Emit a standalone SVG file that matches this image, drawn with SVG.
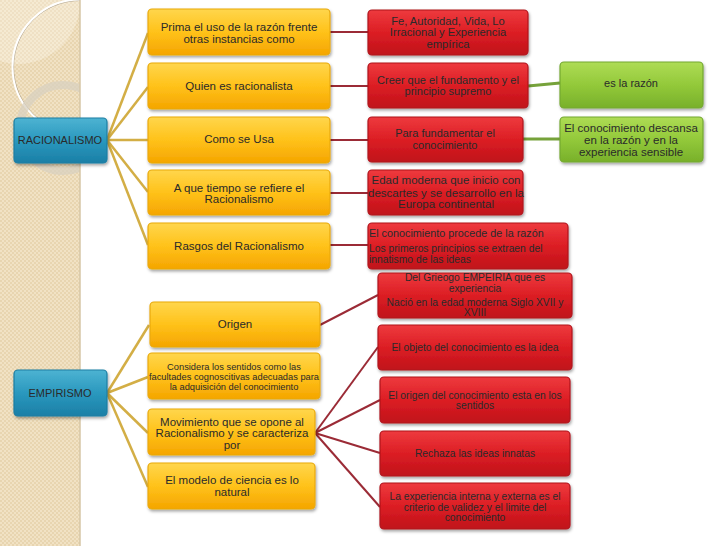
<svg xmlns="http://www.w3.org/2000/svg" width="728" height="546" viewBox="0 0 728 546">
<defs>
<pattern id="chk" width="4" height="4" patternUnits="userSpaceOnUse">
<rect width="4" height="4" fill="#F1E2C4"/>
<rect width="2" height="2" fill="#E8D5B0"/>
<rect x="2" y="2" width="2" height="2" fill="#E8D5B0"/>
</pattern>
<clipPath id="strip"><rect x="0" y="0" width="80" height="546"/></clipPath>
<linearGradient id="gOr" x1="0" y1="0" x2="0" y2="1">
<stop offset="0" stop-color="#FFD64C"/><stop offset="0.5" stop-color="#FFC21A"/><stop offset="1" stop-color="#F5A500"/>
</linearGradient>
<linearGradient id="gRd" x1="0" y1="0" x2="0" y2="1">
<stop offset="0" stop-color="#EE3A3E"/><stop offset="0.5" stop-color="#DC1E24"/><stop offset="1" stop-color="#C0121A"/>
</linearGradient>
<linearGradient id="gGr" x1="0" y1="0" x2="0" y2="1">
<stop offset="0" stop-color="#AEDC55"/><stop offset="0.5" stop-color="#93C93A"/><stop offset="1" stop-color="#78B02A"/>
</linearGradient>
<linearGradient id="gBl" x1="0" y1="0" x2="0" y2="1">
<stop offset="0" stop-color="#4DB3D2"/><stop offset="0.5" stop-color="#2A98BE"/><stop offset="1" stop-color="#1B7FA6"/>
</linearGradient>
<filter id="sh" x="-10%" y="-20%" width="120%" height="150%">
<feDropShadow dx="1" dy="2" stdDeviation="1.5" flood-color="#000" flood-opacity="0.35"/>
</filter>
<style>
.or{fill:url(#gOr);stroke:#E9A90C;stroke-width:1.2;filter:url(#sh)}
.rd{fill:url(#gRd);stroke:#B0141C;stroke-width:1.2;filter:url(#sh)}
.gr{fill:url(#gGr);stroke:#74A830;stroke-width:1.2;filter:url(#sh)}
.bl{fill:url(#gBl);stroke:#1C7EA3;stroke-width:1.2;filter:url(#sh)}
text{font-family:"Liberation Sans",Arial,sans-serif;fill:#2a2a2a;text-anchor:middle}
.t11{font-size:11.5px}
.t10{font-size:10.3px}
.t9{font-size:9.3px}
.l{text-anchor:start}
.cy{stroke:#D3AE45;stroke-width:2.5;fill:none}
.cr{stroke:#9B2B36;stroke-width:2;fill:none}
.cg{stroke:#76A23A;stroke-width:3;fill:none}
</style>
</defs>

<g id="background">
<rect width="728" height="546" fill="#FFFFFF"/>
<rect width="80" height="546" fill="url(#chk)"/>
<g clip-path="url(#strip)">
<circle cx="18" cy="2" r="62" fill="#FFFBF2" opacity="0.3"/>
<circle cx="80" cy="67" r="66.5" fill="none" stroke="#8F8575" stroke-width="1" opacity="0.6"/>
<circle cx="80" cy="67" r="67.5" fill="none" stroke="#FFFFFF" stroke-width="2"/>
<circle cx="63" cy="128" r="43" fill="none" stroke="#D8D0C0" stroke-width="8" opacity="0.75"/>
</g>
<line x1="80" y1="0" x2="80" y2="546" stroke="#D6C6A6" stroke-width="1.5"/>
</g>

<g id="connectors">
<line class="cy" x1="107" y1="140" x2="148" y2="33"/>
<line class="cy" x1="107" y1="140" x2="148" y2="87"/>
<line class="cy" x1="107" y1="140" x2="148" y2="140"/>
<line class="cy" x1="107" y1="140" x2="148" y2="192"/>
<line class="cy" x1="107" y1="140" x2="148" y2="245"/>
<line class="cr" x1="330" y1="32" x2="368" y2="32"/>
<line class="cr" x1="330" y1="86" x2="368" y2="86"/>
<line class="cr" x1="330" y1="140" x2="368" y2="140"/>
<line class="cr" x1="330" y1="193" x2="368" y2="193"/>
<line class="cr" x1="330" y1="245" x2="368" y2="245"/>
<line class="cg" x1="528" y1="86" x2="560" y2="83"/>
<line class="cg" x1="523" y1="139" x2="560" y2="139"/>
<line class="cy" x1="107" y1="393" x2="149" y2="325"/>
<line class="cy" x1="107" y1="393" x2="148" y2="377"/>
<line class="cy" x1="107" y1="393" x2="148" y2="433"/>
<line class="cy" x1="107" y1="393" x2="148" y2="487"/>
<line class="cr" x1="320" y1="325" x2="378" y2="295"/>
<line class="cr" x1="315" y1="433" x2="378" y2="347"/>
<line class="cr" x1="315" y1="433" x2="380" y2="400"/>
<line class="cr" x1="315" y1="433" x2="380" y2="453"/>
<line class="cr" x1="315" y1="433" x2="380" y2="507"/>
</g>

<g id="racionalismo">
<rect class="bl" x="14" y="118" width="93" height="45" rx="4"/>
<text class="t11" x="60" y="144" style="font-size:11px">RACIONALISMO</text>
</g>
<g id="r-prima">
<rect class="or" x="148" y="9" width="182" height="46" rx="4"/>
<text class="t11" x="239" y="31">Prima el uso de la razón frente</text>
<text class="t11" x="239" y="43">otras instancias como</text>
</g>
<g id="r-quien">
<rect class="or" x="148" y="63" width="182" height="46" rx="4"/>
<text class="t11" x="239" y="90">Quien es racionalista</text>
</g>
<g id="r-como">
<rect class="or" x="148" y="117" width="182" height="46" rx="4"/>
<text class="t11" x="239" y="143">Como se Usa</text>
</g>
<g id="r-tiempo">
<rect class="or" x="148" y="170" width="182" height="45" rx="4"/>
<text class="t11" x="239" y="192">A que tiempo se refiere el</text>
<text class="t11" x="239" y="203">Racionalismo</text>
</g>
<g id="r-rasgos">
<rect class="or" x="148" y="223" width="182" height="46" rx="4"/>
<text class="t11" x="239" y="250">Rasgos del Racionalismo</text>
</g>

<g id="r-fe">
<rect class="rd" x="368" y="10" width="160" height="45" rx="4"/>
<text class="t11" x="448" y="25" style="font-size:11.2px">Fe, Autoridad, Vida, Lo</text>
<text class="t11" x="448" y="36" style="font-size:11.2px">Irracional y Experiencia</text>
<text class="t11" x="448" y="48" style="font-size:11.2px">empírica</text>
</g>
<g id="r-creer">
<rect class="rd" x="368" y="63" width="160" height="45" rx="4"/>
<text class="t11" x="448" y="84" style="font-size:11px">Creer que el fundamento y el</text>
<text class="t11" x="448" y="95" style="font-size:11px">principio supremo</text>
</g>
<g id="r-para">
<rect class="rd" x="368" y="117" width="155" height="45" rx="4"/>
<text class="t11" x="445" y="137" style="font-size:11px">Para fundamentar el</text>
<text class="t11" x="445" y="149" style="font-size:11px">conocimiento</text>
</g>
<g id="r-edad">
<rect class="rd" x="368" y="170" width="155" height="45" rx="4"/>
<text class="t11" x="446" y="184">Edad moderna que inicio con</text>
<text class="t11" x="446" y="197">descartes y se desarrollo en la</text>
<text class="t11" x="446" y="208">Europa continental</text>
</g>
<g id="r-conoc">
<rect class="rd" x="368" y="223" width="200" height="46" rx="4"/>
<text class="t10 l" x="369" y="237" style="font-size:10.8px">El conocimiento procede de la razón</text>
<text class="t10 l" x="369" y="252">Los  primeros principios se extraen del</text>
<text class="t10 l" x="369" y="263">innatismo de las ideas</text>
</g>

<g id="g-razon">
<rect class="gr" x="560" y="62" width="143" height="46" rx="4"/>
<text class="t11" x="631" y="87" style="font-size:11px">es la razón</text>
</g>
<g id="g-descansa">
<rect class="gr" x="560" y="117" width="143" height="45" rx="4"/>
<text class="t11" x="631" y="132">El conocimiento descansa</text>
<text class="t11" x="631" y="144">en la razón y en la</text>
<text class="t11" x="631" y="156">experiencia sensible</text>
</g>

<g id="empirismo">
<rect class="bl" x="14" y="370" width="93" height="46" rx="4"/>
<text class="t11" x="60" y="397" style="font-size:11px">EMPIRISMO</text>
</g>
<g id="e-origen">
<rect class="or" x="150" y="302" width="170" height="45" rx="4"/>
<text class="t11" x="235" y="328">Origen</text>
</g>
<g id="e-considera">
<rect class="or" x="148" y="353" width="172" height="46" rx="4"/>
<text class="t9" x="234" y="370">Considera los  sentidos como las</text>
<text class="t9" x="234" y="380">facultades cognoscitivas adecuadas para</text>
<text class="t9" x="234" y="390">la adquisición del conocimiento</text>
</g>
<g id="e-movimiento">
<rect class="or" x="148" y="409" width="167" height="46" rx="4"/>
<text class="t11" x="232" y="426">Movimiento que se opone al</text>
<text class="t11" x="232" y="437">Racionalismo y se caracteriza</text>
<text class="t11" x="232" y="449">por</text>
</g>
<g id="e-modelo">
<rect class="or" x="148" y="463" width="167" height="46" rx="4"/>
<text class="t11" x="232" y="484">El modelo de ciencia es lo</text>
<text class="t11" x="232" y="496">natural</text>
</g>

<g id="e-griego">
<rect class="rd" x="378" y="273" width="194" height="45" rx="4"/>
<text class="t10" x="475" y="281">Del Grieogo EMPEIRIA que es</text>
<text class="t10" x="475" y="292">experiencia</text>
<text class="t10" x="475" y="306">Nació en la edad moderna Siglo XVII y</text>
<text class="t10" x="475" y="316">XVIII</text>
</g>
<g id="e-objeto">
<rect class="rd" x="378" y="325" width="194" height="45" rx="4"/>
<text class="t10" x="475" y="351">El objeto del conocimiento es la idea</text>
</g>
<g id="e-sentidos">
<rect class="rd" x="380" y="377" width="190" height="46" rx="4"/>
<text class="t10" x="475" y="399">El origen del conocimiento esta en los</text>
<text class="t10" x="475" y="409">sentidos</text>
</g>
<g id="e-rechaza">
<rect class="rd" x="380" y="431" width="190" height="45" rx="4"/>
<text class="t10" x="475" y="457">Rechaza las ideas innatas</text>
</g>
<g id="e-experiencia">
<rect class="rd" x="380" y="483" width="190" height="46" rx="4"/>
<text class="t10" x="475" y="500">La experiencia interna y externa es el</text>
<text class="t10" x="475" y="511">criterio de validez  y el limite del</text>
<text class="t10" x="475" y="521">conocimiento</text>
</g>
</svg>
